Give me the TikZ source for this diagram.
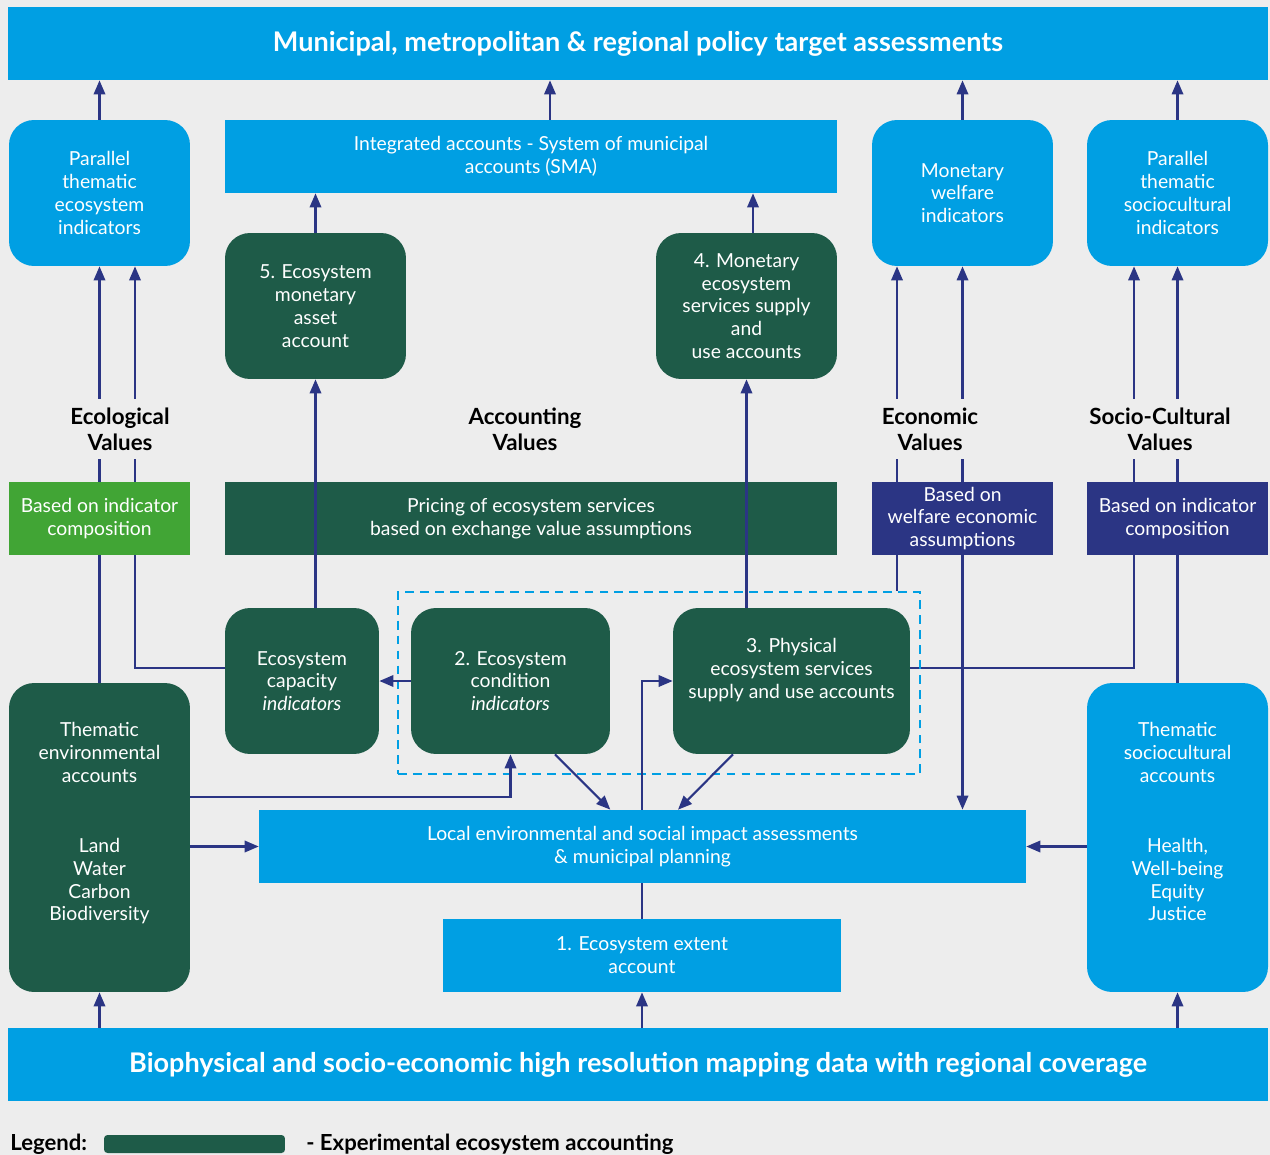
\documentclass[tikz,border=0pt]{standalone}
\usepackage{fontspec}
\setmainfont{Lato}
\usetikzlibrary{arrows.meta, positioning, calc, backgrounds}

\definecolor{skyb}{HTML}{009FE3}
\definecolor{ecogreen}{HTML}{1E5B48}
\definecolor{leafgreen}{HTML}{41A535}
\definecolor{navy}{HTML}{2B3584}
\definecolor{bgc}{HTML}{EDEDED}

\newcommand{\boxfont}{\fontsize{11}{13}\selectfont}
\newcommand{\valfont}{\fontsize{12.7}{14.7}\selectfont\bfseries}
\newcommand{\barfont}{\fontsize{15.4}{17}\selectfont\bfseries}
\newcommand{\legfont}{\fontsize{12.6}{14}\selectfont\bfseries}

\begin{document}
\begin{tikzpicture}[
        x=0.02cm, y=-0.02cm,
        box/.style={align=center, text=white, font=\boxfont, inner sep=2pt},
        bluebox/.style={box, fill=skyb},
        rbluebox/.style={bluebox, rounded corners=0.5cm},
        ecobox/.style={box, fill=ecogreen, rounded corners=0.5cm},
        basisbox/.style={box, minimum width=3.62cm, minimum height=1.46cm},
        valuelabel/.style={fill=bgc, font=\valfont, align=center, inner xsep=2pt, inner ysep=5pt},
        groupbox/.style={draw=skyb, line width=1.2pt, dash pattern=on 5pt off 3.5pt},
        link/.style={draw=navy, line width=1.2pt},
        arr/.style={link, -{Triangle[length=8pt, width=6.5pt]}},
        arrs/.style={link, {Triangle[length=8pt, width=6.5pt]}-{Triangle[length=8pt, width=6.5pt]}}
    ]

        \useasboundingbox (0,0) rectangle (1270,1155);

        % ================= BARRAS SUPERIOR E INFERIOR =================
        \node[bluebox, font=\barfont, minimum width=25.2cm, minimum height=1.46cm] (top) at (638,43.5)
            {Municipal, metropolitan \& regional policy target assessments};
        \node[bluebox, font=\barfont, minimum width=25.2cm, minimum height=1.46cm] (bot) at (638,1064.5)
            {Biophysical and socio-economic high resolution mapping data with regional coverage};

        % ================= FILA SUPERIOR =================
        \node[rbluebox, minimum width=3.62cm, minimum height=2.92cm] (parEco) at (99.5,193)
            {Parallel\\thematic\\ecosystem\\indicators};
        \node[bluebox, minimum width=12.24cm, minimum height=1.46cm] (integ) at (531,156.5)
            {Integrated accounts - System of municipal\\accounts (SMA)};
        \node[rbluebox, minimum width=3.62cm, minimum height=2.92cm] (monWel) at (962.5,193)
            {Monetary\\welfare\\indicators};
        \node[rbluebox, minimum width=3.62cm, minimum height=2.92cm] (parSoc) at (1177.5,193)
            {Parallel\\thematic\\sociocultural\\indicators};

        \node[ecobox, minimum width=3.62cm, minimum height=2.92cm] (acc5) at (315.5,306)
            {5. Ecosystem\\monetary\\asset\\account};
        \node[ecobox, minimum width=3.62cm, minimum height=2.92cm] (acc4) at (746.5,306)
            {4. Monetary\\ecosystem\\services supply\\and\\use accounts};

        % ================= VALORES =================
        \node[valuelabel] (ecoVal) at (120,429) {Ecological\\Values};
        \node[valuelabel] (accVal) at (525,429) {Accounting\\Values};
        \node[valuelabel] (econVal) at (930,429) {Economic\\Values};
        \node[valuelabel] (socVal) at (1160,429) {Socio-Cultural\\Values};

        \node[basisbox, fill=leafgreen] (basedEco) at (99.5,518.5) {Based on indicator\\composition};
        \node[box, fill=ecogreen, minimum width=12.24cm, minimum height=1.46cm] (pricing) at (531,518.5)
            {Pricing of ecosystem services\\based on exchange value assumptions};
        \node[basisbox, fill=navy] (basedWel) at (962.5,518.5) {Based on\\welfare economic\\assumptions};
        \node[basisbox, fill=navy] (basedSoc) at (1177.5,518.5) {Based on indicator\\composition};

        % ================= CUENTAS EXPERIMENTALES =================
        \node[ecobox, minimum width=3.08cm, minimum height=2.92cm] (capac) at (302,681)
            {Ecosystem\\capacity\\\textit{indicators}};
        \node[ecobox, minimum width=3.98cm, minimum height=2.92cm] (cond2) at (510.5,681)
            {2. Ecosystem\\condition\\\textit{indicators}};
        \node[ecobox, minimum width=4.74cm, minimum height=2.92cm] (phys3) at (791.5,681)
            {3. Physical\\ecosystem services\\supply and use accounts\\[0.06cm]};
        \node[groupbox, minimum width=10.44cm, minimum height=3.64cm] (grp) at (659,683) {};

        % ================= FILA INFERIOR =================
        \node[ecobox, minimum width=3.62cm, minimum height=6.18cm] (envAcc) at (99.5,837.5)
            {Thematic\\environmental\\accounts\\[0.95cm]Land\\Water\\Carbon\\Biodiversity\\[0.18cm]};
        \node[rbluebox, minimum width=3.62cm, minimum height=6.18cm] (socAcc) at (1177.5,837.5)
            {Thematic\\sociocultural\\accounts\\[0.95cm]Health,\\Well-being\\Equity\\Justice\\[0.18cm]};
        \node[bluebox, minimum width=15.34cm, minimum height=1.46cm] (local) at (642.5,846.5)
            {Local environmental and social impact assessments\\\& municipal planning};
        \node[bluebox, minimum width=7.96cm, minimum height=1.46cm] (extent1) at (642,955.5)
            {1. Ecosystem extent\\account};

        % Leyenda
        \node[anchor=west, font=\legfont, inner sep=0pt] (legend) at (10,1144) {Legend:};
        \node[fill=ecogreen, rounded corners=2pt, minimum width=3.62cm, minimum height=0.36cm, inner sep=0pt] (legbar) at (194.5,1144) {};
        \node[anchor=west, font=\legfont, inner sep=0pt] (legtxt) at (306,1144) {- Experimental ecosystem accounting};

        % columnas de las lineas
        \coordinate (xI) at (550,0);
        \coordinate (xM) at (753,0);
        \coordinate (xE) at (135,0);
        \coordinate (xW) at (897,0);
        \coordinate (xS) at (1134,0);
        \coordinate (yT) at (0,797);
        \coordinate (yC) at (0,668);

        % ================= CONEXIONES (detras) =================
        \begin{scope}[on background layer]
            \fill[bgc] (0,0) rectangle (1270,1155);

            \path[arr] (envAcc.north) -- (parEco.south);
            \path[arr] (capac.west |- yC) -| (xE |- parEco.south);
            \path[arr] (grp.north -| xW) -- (xW |- monWel.south);
            \path[arrs] (local.north -| monWel.south) -- (monWel.south);
            \path[arr] (phys3.east |- yC) -| (xS |- parSoc.south);
            \path[arr] (socAcc.north) -- (parSoc.south);
        \end{scope}

        % ================= CONEXIONES =================
        \path[arr] (parEco.north) -- (parEco.north |- top.south);
        \path[arr] (integ.north -| xI) -- (xI |- top.south);
        \path[arr] (monWel.north) -- (monWel.north |- top.south);
        \path[arr] (parSoc.north) -- (parSoc.north |- top.south);

        \path[arr] (acc5.north) -- (acc5.north |- integ.south);
        \path[arr] (acc4.north -| xM) -- (xM |- integ.south);
        \path[arr] (acc5.south |- capac.north) -- (acc5.south);
        \path[arr] (phys3.north -| acc4.south) -- (acc4.south);

        \path[arr] (cond2.west) -- (capac.east);
        \path[arr] (envAcc.east |- yT) -| (cond2.south);
        \path[arr] (envAcc.east |- local.west) -- (local.west);
        \path[arr] ([xshift=0.89cm]cond2.south) -- (local.north -| cond2.east);
        \path[arr] ([xshift=-1.17cm]phys3.south) -- ([xshift=0.71cm]local.north);
        \path[arr] (local.north -| extent1.north) |- (phys3.west);
        \path[link] (extent1.north) -- (extent1.north |- local.south);
        \path[arr] (socAcc.west |- local.east) -- (local.east);

        \path[arr] (bot.north -| envAcc.south) -- (envAcc.south);
        \path[arr] (bot.north -| extent1.south) -- (extent1.south);
        \path[arr] (bot.north -| socAcc.south) -- (socAcc.south);

    \end{tikzpicture}
\end{document}
